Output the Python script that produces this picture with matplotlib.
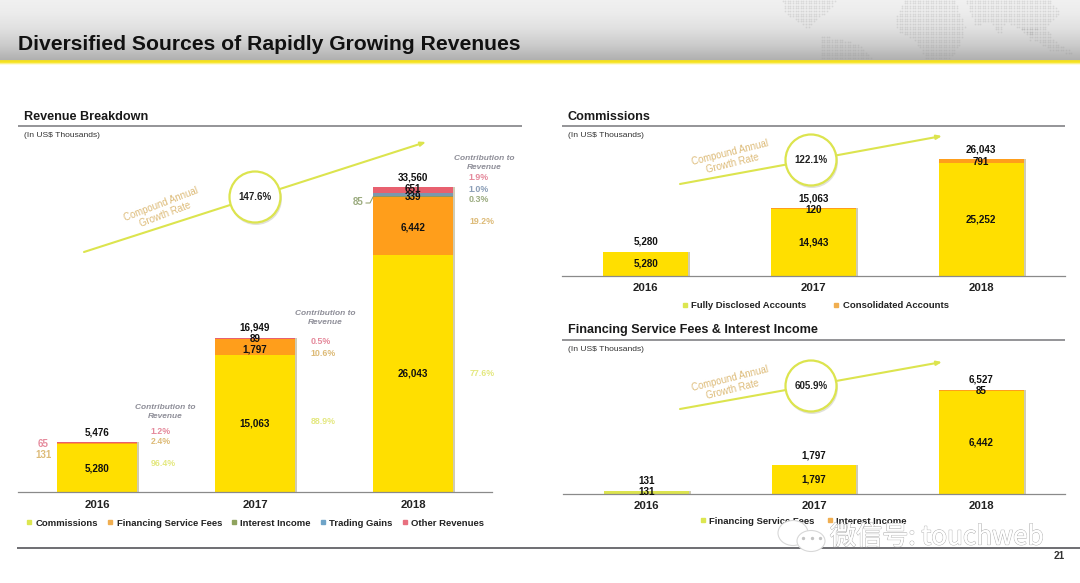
import numpy as np
import matplotlib
matplotlib.use("Agg")
import matplotlib.pyplot as plt
import matplotlib.patheffects as pe
from matplotlib.lines import Line2D
from matplotlib.patches import Circle, Ellipse
from matplotlib.path import Path

plt.rcParams["font.family"] = ["Liberation Sans", "DejaVu Sans"]

W, H = 1080, 583

years = ["2016", "2017", "2018"]

# Revenue Breakdown
commissions = [5280, 15063, 26043]
financing_fees = [131, 1797, 6442]
interest_income = [0, 0, 85]
trading_gains = [0, 0, 339]
other_revenues = [65, 89, 651]
revenue_totals = [5476, 16949, 33560]
revenue_names = ["Commissions", "Financing Service Fees", "Interest Income",
                 "Trading Gains", "Other Revenues"]

# Commissions
fully_disclosed = [5280, 14943, 25252]
consolidated = [0, 120, 791]
commission_totals = [5280, 15063, 26043]

# Financing Service Fees & Interest Income
fin_fees = [131, 1797, 6442]
fin_interest = [0, 0, 85]
fin_totals = [131, 1797, 6527]

cagr = ["147.6%", "122.1%", "605.9%"]

share_2016 = ["1.2%", "2.4%", "96.4%"]
share_2017 = ["0.5%", "10.6%", "88.9%"]
share_2018 = ["1.9%", "1.0%", "0.3%", "19.2%", "77.6%"]

YELLOW = "#FFDF00"
ORANGE = "#FF9E1B"
GREEN = "#8C9A62"
BLUE = "#7B98AE"
PINK = "#E8606F"
LINE = "#DCE44E"
TAN = "#DDBB78"
GREY = "#8E8E98"


def axes_px(fig, left, right, top, bottom):
    return fig.add_axes([left / W, 1 - bottom / H, (right - left) / W, (bottom - top) / H])


def lab(ax, x, y, text, dy=0, color="#111111", size=7.1):
    # y in data units, dy in pixels (plus = up)
    ax.annotate(text, (x, y), xytext=(0, dy * 0.72), textcoords="offset points",
                ha="center", va="center", fontsize=size, fontweight="bold", color=color)


def stacked(ax, series, colors, width=0.506):
    x = np.arange(3)
    bottom = np.zeros(3)
    totals = np.sum(series, axis=0)
    ax.bar(x + 0.012, totals, width, color="#CFCBB4", zorder=1)
    for vals, col in zip(series, colors):
        ax.bar(x, vals, width, bottom=bottom, color=col, zorder=2, linewidth=0)
        bottom = bottom + np.array(vals)
    ax.set_xlim(-0.5, 2.5)
    ax.set_ylim(0, totals.max())
    ax.set_xticks(x, years)
    ax.set_yticks([])
    ax.tick_params(axis="x", length=0, pad=5.5)
    for t in ax.get_xticklabels():
        t.set_fontsize(8.2)
        t.set_fontweight("bold")
        t.set_color("#222222")
    for s in ["top", "left", "right"]:
        ax.spines[s].set_visible(False)
    ax.spines["bottom"].set_color("#8a8a8a")
    ax.spines["bottom"].set_linewidth(0.9)
    ax.patch.set_alpha(0)


def legend(ax, fig, names, colors, cx, cy, spacing):
    handles = [Line2D([], [], ls="", marker="s", ms=3.4, color=c) for c in colors]
    ax.legend(handles, names, loc="center", bbox_to_anchor=(cx / W, 1 - cy / H),
              bbox_transform=fig.transFigure, ncol=len(names), frameon=False,
              prop={"size": 6.8, "weight": "bold"}, labelcolor="#222222",
              handletextpad=-0.35, columnspacing=spacing, borderpad=0)


def growth(top, start, end, center, text, pct, text_xy, angle):
    top.annotate("", xy=end, xytext=start, zorder=2,
                 arrowprops=dict(arrowstyle="-|>,head_length=0.3,head_width=0.12",
                                 color=LINE, lw=1.5, shrinkA=0, shrinkB=0))
    top.add_patch(Circle((center[0] + 1, center[1] + 2), 26, fc="#D5D5C8", ec="none", alpha=0.7, zorder=3))
    top.add_patch(Circle(center, 25.5, fc="white", ec=LINE, lw=1.6, zorder=4))
    top.text(center[0], center[1], pct, ha="center", va="center", fontsize=7,
             fontweight="bold", color="#222222", zorder=5)
    top.text(text_xy[0], text_xy[1], text, ha="center", va="center", fontsize=6.9,
             color=TAN, rotation=angle, rotation_mode="anchor", linespacing=1.15)


fig = plt.figure(figsize=(W / 100, H / 100), dpi=100, facecolor="white")

# page furniture under the charts
pg = fig.add_axes([0, 0, 1, 1], zorder=0)
pg.set_xlim(0, W)
pg.set_ylim(H, 0)
pg.axis("off")
# header gradient, one flat strip per pixel row
grad = np.interp(np.arange(60), [0, 12, 28, 45, 59], [240, 236, 224, 202, 176]) / 255
for row, g in enumerate(grad):
    pg.fill_between([0, W], row, row + 1, color=(g, g, g), lw=0)
for row, c in enumerate([(0.93, 0.86, 0.18), (0.96, 0.88, 0.12), (0.97, 0.90, 0.20),
                         (0.98, 0.94, 0.55), (1.0, 0.98, 0.85)]):
    pg.fill_between([0, W], 60 + row, 61 + row, color=c, lw=0)

# dotted world map
map_shapes = [
    [(782, 0), (835, 0), (830, 10), (815, 20), (808, 28), (795, 20), (785, 12)],
    [(820, 35), (845, 40), (860, 45), (873, 58), (820, 58)],
    [(905, 0), (955, 0), (965, 25), (960, 45), (950, 58), (925, 58), (915, 40), (898, 32), (895, 20)],
    [(965, 0), (1050, 0), (1060, 12), (1045, 28), (1035, 30), (1030, 40), (1020, 28),
     (1005, 22), (1000, 35), (990, 22), (975, 25)],
    [(1020, 28), (1045, 28), (1060, 45), (1078, 55), (1050, 50), (1035, 40)],
]
gx, gy = np.meshgrid(np.arange(780, 1080, 2.6), np.arange(0.5, 59, 2.6))
pts = np.column_stack([gx.ravel(), gy.ravel()])
for shape in map_shapes:
    inside = Path(shape + [shape[0]]).contains_points(pts)
    pg.scatter(pts[inside, 0], pts[inside, 1], s=1.6, color="#8C8C8C", alpha=0.22, linewidths=0)

pg.text(18, 44, "Diversified Sources of Rapidly Growing Revenues", fontsize=15.2,
        fontweight="bold", color="#111111", va="center", ha="left")

for x0, x1, y, name in [(18, 522, 126, "Revenue Breakdown"),
                        (562, 1065, 126, "Commissions"),
                        (562, 1065, 340, "Financing Service Fees & Interest Income")]:
    pg.plot([x0, x1], [y, y], color="#77777B", lw=1.1, solid_capstyle="butt")
    pg.text(x0 + 6, y - 9.5, name, fontsize=9.05, fontweight="bold", color="#1a1a1a", va="center")
    pg.text(x0 + 6, y + 9.5, "(In US$ Thousands)", fontsize=6.1, color="#333333", va="center")
pg.plot([17, W], [548, 548], color="#55555A", lw=1.2, solid_capstyle="butt")
pg.text(1065, 556, "21", fontsize=7.2, fontweight="bold", color="#333333", ha="right", va="center")
pg.set_xlim(0, W)
pg.set_ylim(H, 0)

# Revenue Breakdown
ax1 = axes_px(fig, 18, 492, 187, 492)
rev_series = [commissions, financing_fees, interest_income, trading_gains, other_revenues]
rev_colors = [YELLOW, ORANGE, GREEN, BLUE, PINK]
stacked(ax1, rev_series, rev_colors)
for i in range(3):
    lab(ax1, i, revenue_totals[i], f"{revenue_totals[i]:,}", 10)
    lab(ax1, i, commissions[i] / 2, f"{commissions[i]:,}")
lab(ax1, 1, commissions[1] + financing_fees[1] / 2, f"{financing_fees[1]:,}", -3)
lab(ax1, 1, revenue_totals[1], f"{other_revenues[1]:,}", -1)
lab(ax1, 2, commissions[2] + financing_fees[2] / 2, f"{financing_fees[2]:,}", -1)
lab(ax1, 2, revenue_totals[2], f"{other_revenues[2]:,}", -2)
lab(ax1, 2, revenue_totals[2], f"{trading_gains[2]:,}", -10)
legend(ax1, fig, revenue_names, ["#DCE650", "#F0AE50", "#8FA35E", "#6FA4C8", "#E8707F"], 252, 523, 0.3)

# Commissions
ax2 = axes_px(fig, 562, 1065, 159.5, 275.5)
stacked(ax2, [fully_disclosed, consolidated], [YELLOW, ORANGE])
for i in range(3):
    lab(ax2, i, commission_totals[i], f"{commission_totals[i]:,}", 10)
    lab(ax2, i, fully_disclosed[i] / 2, f"{fully_disclosed[i]:,}", 0)
lab(ax2, 1, commission_totals[1], f"{consolidated[1]:,}", -2)
lab(ax2, 2, commission_totals[2], f"{consolidated[2]:,}", -3)
legend(ax2, fig, ["Fully Disclosed Accounts", "Consolidated Accounts"],
       ["#DCE650", "#F0AE50"], 812, 306, 2.2)

# Financing Service Fees & Interest Income
ax3 = axes_px(fig, 563, 1065, 390, 493.5)
stacked(ax3, [fin_fees, fin_interest], [YELLOW, ORANGE])
ax3.patches[3].set_facecolor(LINE)
for i in range(3):
    lab(ax3, i, fin_totals[i], f"{fin_totals[i]:,}", 10)
    lab(ax3, i, fin_fees[i] / 2, f"{fin_fees[i]:,}", 0)
lab(ax3, 2, fin_totals[2], f"{fin_interest[2]:,}", -1)
legend(ax3, fig, ["Financing Service Fees", "Interest Income"],
       ["#DCE650", "#F0AE50"], 800, 521, 0.6)

# things on top of the charts
top = fig.add_axes([0, 0, 1, 1], zorder=5)
top.set_xlim(0, W)
top.set_ylim(H, 0)
top.axis("off")
top.patch.set_alpha(0)

cagr_text = "Compound Annual\nGrowth Rate"
growth(top, (84, 252), (426, 142), (255, 197), cagr_text, cagr[0], (163, 209), 21)
growth(top, (680, 184), (942, 136), (811, 160), cagr_text, cagr[1], (731, 158), 14)
growth(top, (680, 409), (942, 362), (811, 386), cagr_text, cagr[2], (731, 384), 14)

share_cols = {"p": "#E58A9C", "t": "#DDBB78", "y": "#E4E880", "b": "#8C9FB8", "g": "#9CAC80"}
for cx, cy in [(165, 412), (325, 318), (484, 163)]:
    top.text(cx, cy, "Contribution to\nRevenue", ha="center", va="center", fontsize=6,
             style="italic", fontweight="bold", color=GREY, linespacing=1.35)
for x, y, s, c in [(161, 432, share_2016[0], "p"), (161, 442, share_2016[1], "t"), (163, 464, share_2016[2], "y"),
                   (321, 342, share_2017[0], "p"), (323, 353, share_2017[1], "t"), (323, 422, share_2017[2], "y"),
                   (479, 178, share_2018[0], "p"), (479, 189, share_2018[1], "b"), (479, 200, share_2018[2], "g"),
                   (482, 222, share_2018[3], "t"), (482, 374, share_2018[4], "y")]:
    top.text(x, y, s, ha="center", va="center", fontsize=6.4, fontweight="bold", color=share_cols[c])

top.text(43, 444, f"{other_revenues[0]}", ha="center", va="center", fontsize=7, fontweight="bold", color="#E58A9C")
top.text(43, 455, f"{financing_fees[0]}", ha="center", va="center", fontsize=7, fontweight="bold", color="#DDBB78")
top.text(358, 202, f"{interest_income[2]}", ha="center", va="center", fontsize=7, fontweight="bold", color="#9CAC80")
top.plot([366, 370, 373], [203, 203, 197], color="#8C9A62", lw=0.7)

# watermark
for (ex, ey, ew, eh) in [(793, 533, 30, 25), (811, 541, 28, 21)]:
    top.add_patch(Ellipse((ex, ey), ew, eh, fc="white", ec="#D8D8D8", lw=0.8))
for dot_x, dot_y in [(803, 538), (812, 538), (820, 538)]:
    top.plot(dot_x, dot_y, "o", ms=1.4, color="#C4C4C4")
top.text(830, 537, "微信号: touchweb", fontsize=18.8, color="white", va="center", ha="left",
         family=["Noto Sans CJK SC", "DejaVu Sans"],
         path_effects=[pe.withStroke(linewidth=0.9, foreground="#B4B4B4"), pe.Normal()])

fig.savefig("out.png", dpi=100)
